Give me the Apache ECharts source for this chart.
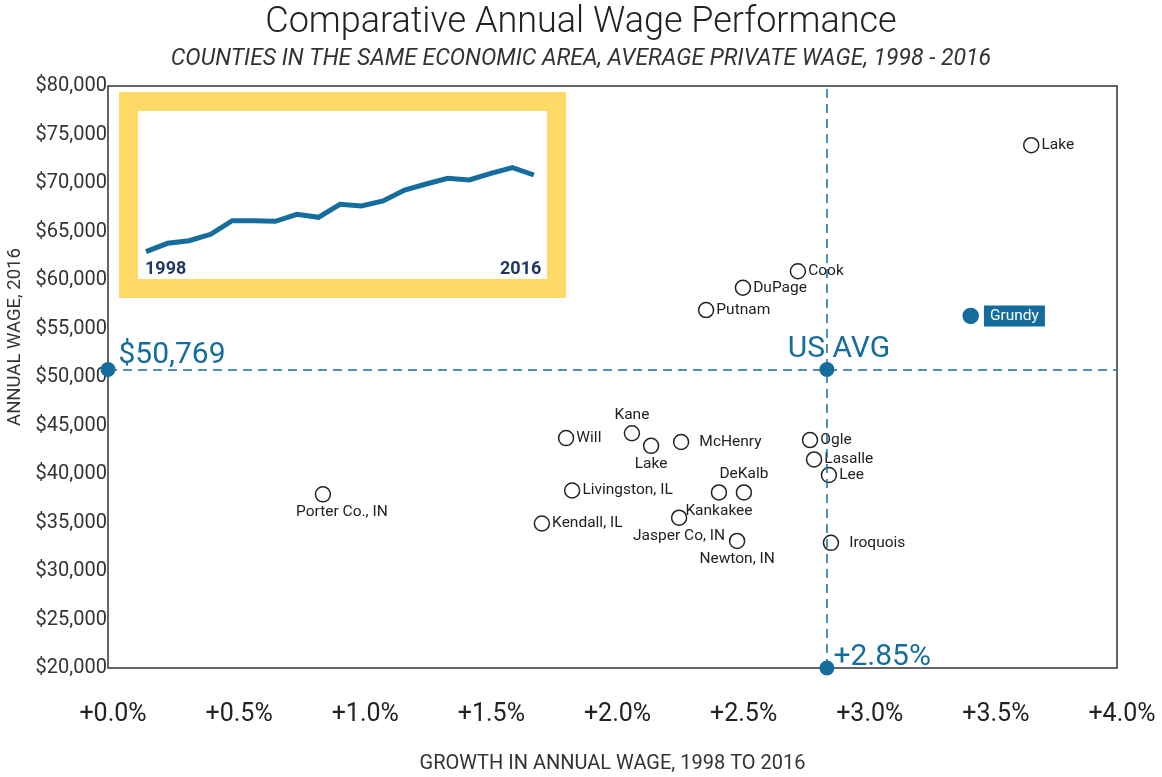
<!DOCTYPE html>
<html>
<head>
<meta charset="utf-8">
<script src="https://cdn.jsdelivr.net/npm/echarts@6/dist/echarts.min.js"></script>
<style>
  html, body { margin: 0; padding: 0; background: #fff; }
  #main { width: 1162px; height: 777px; }
</style>
</head>
<body>
<div id="main"></div>
<script>
// county data
var counties = ['Lake', 'Cook', 'DuPage', 'Putnam', 'Grundy', 'Kane', 'Will', 'Lake', 'McHenry', 'Ogle',
  'Lasalle', 'Lee', 'DeKalb', 'Kankakee', 'Livingston, IL', 'Porter Co., IN', 'Jasper Co, IN', 'Kendall, IL', 'Newton, IN', 'Iroquois'];
var growth = [3.66, 2.735, 2.517, 2.371, 3.42, 2.077, 1.816, 2.153, 2.272, 2.783,
  2.799, 2.858, 2.521, 2.422, 1.84, 0.852, 2.264, 1.72, 2.494, 2.866];
var wage = [73900, 60900, 59200, 56900, 56300, 44200, 43700, 42900, 43300, 43500,
  41500, 39900, 38100, 38100, 38300, 37900, 35500, 34900, 33100, 32900];

var usGrowth = 2.85;
var usWage = 50769;

// small inset: yearly trend
var insetYears = [1998, 1999, 2000, 2001, 2002, 2003, 2004, 2005, 2006, 2007,
  2008, 2009, 2010, 2011, 2012, 2013, 2014, 2015, 2016];
var insetValues = [4.3, 12.7, 15.3, 21.7, 35.3, 35.3, 34.7, 41.7, 38.7, 51.7,
  50, 55, 66, 72, 77.7, 76, 82.7, 88.3, 81];

var BLUE = '#146d9c';
var TXT = '#222';

// where each county label sits (by index)
var labelPlace = {
  5: 'top', 7: 'bottom', 12: 'top', 13: 'bottom', 15: 'bottom', 16: 'bottom', 18: 'bottom'
};
var labelShift = { 15: [19, 0], 8: [8, 0], 19: [8, 0] };

var dom = document.getElementById('main');
var myChart = echarts.init(dom);

var countyData = counties.map(function (name, i) {
  var item = { name: name, value: [growth[i], wage[i]] };
  var lab = { position: labelPlace[i] || 'right', distance: 2 };
  if (labelShift[i]) lab.offset = labelShift[i];
  if (name === 'Grundy') {
    item.itemStyle = { color: BLUE, borderColor: BLUE };
    lab.backgroundColor = BLUE;
    lab.color = '#fff';
    lab.padding = [3, 6, 2, 6];
    lab.distance = 5;
  }
  item.label = lab;
  return item;
});

var option = {
  textStyle: { fontFamily: 'Roboto' },
  title: {
    text: 'Comparative Annual Wage Performance',
    subtext: 'COUNTIES IN THE SAME ECONOMIC AREA, AVERAGE PRIVATE WAGE, 1998 - 2016',
    left: 'center',
    top: 0,
    itemGap: 7,
    textStyle: { fontFamily: 'Roboto', fontSize: 36, fontWeight: 300, color: TXT },
    subtextStyle: { fontFamily: 'Roboto', fontSize: 23, fontStyle: 'italic', color: '#333' }
  },
  grid: [
    { left: 108, top: 86, right: 45, bottom: 109, outerBoundsMode: 'none', show: true, borderColor: '#333', borderWidth: 1.5, backgroundColor: 'transparent' },
    { left: 146, top: 137, width: 397, height: 119, outerBoundsMode: 'none', z: 5 }
  ],
  xAxis: [{
    gridIndex: 0,
    type: 'value',
    min: 0, max: 4, interval: 0.5,
    name: 'GROWTH IN ANNUAL WAGE, 1998 TO 2016',
    nameLocation: 'middle',
    nameGap: 86,
    nameTextStyle: { fontSize: 20, color: '#333' },
    axisLine: { show: false },
    axisTick: { show: false },
    splitLine: { show: false },
    axisLabel: {
      fontSize: 25, color: TXT, margin: 34, padding: [0, 0, 0, 10],
      formatter: function (v) { return '+' + v.toFixed(1) + '%'; }
    }
  }, {
    gridIndex: 1,
    type: 'value',
    min: 1998, max: 2016.42,
    axisLine: { show: true, onZero: false, lineStyle: { color: '#222', width: 2 } },
    axisTick: { show: false },
    axisLabel: { show: false },
    splitLine: { show: false }
  }],
  yAxis: [{
    gridIndex: 0,
    type: 'value',
    min: 20000, max: 80000, interval: 5000,
    name: 'ANNUAL WAGE, 2016',
    nameLocation: 'middle',
    nameGap: 80,
    nameTextStyle: { fontSize: 18.5, color: '#333', padding: [0, 0, 0, 80] },
    axisLine: { show: false },
    axisTick: { show: false },
    splitLine: { show: false },
    axisLabel: {
      fontSize: 20, color: '#333', margin: 1,
      formatter: function (v) { return '$' + v.toLocaleString('en-US'); }
    }
  }, {
    gridIndex: 1,
    type: 'value',
    min: 0, max: 119,
    axisLine: { show: true, onZero: false, lineStyle: { color: '#222', width: 2 } },
    axisTick: { show: false },
    axisLabel: { show: false },
    splitLine: { show: false }
  }],
  graphic: [
    {
      type: 'rect', z: 3,
      shape: { x: 128.5, y: 101.5, width: 428, height: 187 },
      style: { fill: '#fff', stroke: '#fed966', lineWidth: 19 }
    },
    {
      type: 'text', z: 10, left: 145, top: 260,
      style: { text: String(insetYears[0]), fill: '#1f3864', font: 'bold 18px Roboto' }
    },
    {
      type: 'text', z: 10, left: 500, top: 260,
      style: { text: String(insetYears[insetYears.length - 1]), fill: '#1f3864', font: 'bold 18px Roboto' }
    }
  ],
  series: [
    {
      name: 'counties',
      type: 'scatter',
      xAxisIndex: 0, yAxisIndex: 0,
      symbol: 'circle',
      symbolSize: 15,
      clip: false,
      itemStyle: { color: '#fff', borderColor: '#222', borderWidth: 1.5, opacity: 1 },
      label: {
        show: true,
        formatter: '{b}',
        fontSize: 15.5,
        color: TXT
      },
      data: countyData,
      markLine: {
        silent: true,
        symbol: ['none', 'none'],
        label: { show: false },
        lineStyle: { color: BLUE, type: [9, 6], width: 1.5, opacity: 1 },
        data: [{ xAxis: usGrowth }, { yAxis: usWage }]
      }
    },
    {
      name: 'us',
      type: 'scatter',
      xAxisIndex: 0, yAxisIndex: 0,
      symbolSize: 15,
      clip: false,
      z: 4,
      itemStyle: { color: BLUE, opacity: 1 },
      label: { show: true, fontSize: 30, color: BLUE, fontWeight: 400 },
      data: [
        { value: [0, usWage], label: { formatter: '$' + usWage.toLocaleString('en-US'), position: 'right', offset: [-2, -14] } },
        { value: [usGrowth, usWage], label: { formatter: 'US AVG', position: 'top', offset: [12, 2], distance: 0 } },
        { value: [usGrowth, 20000], label: { formatter: '+' + usGrowth.toFixed(2) + '%', position: 'right', offset: [-4, -11], distance: 3 } }
      ]
    },
    {
      name: 'trend',
      type: 'line',
      xAxisIndex: 1, yAxisIndex: 1,
      symbol: 'none',
      z: 10,
      lineStyle: { color: BLUE, width: 5, join: 'miter' },
      data: insetYears.map(function (y, i) { return [y, insetValues[i]]; })
    }
  ]
};

myChart.setOption(option);
</script>
</body>
</html>
